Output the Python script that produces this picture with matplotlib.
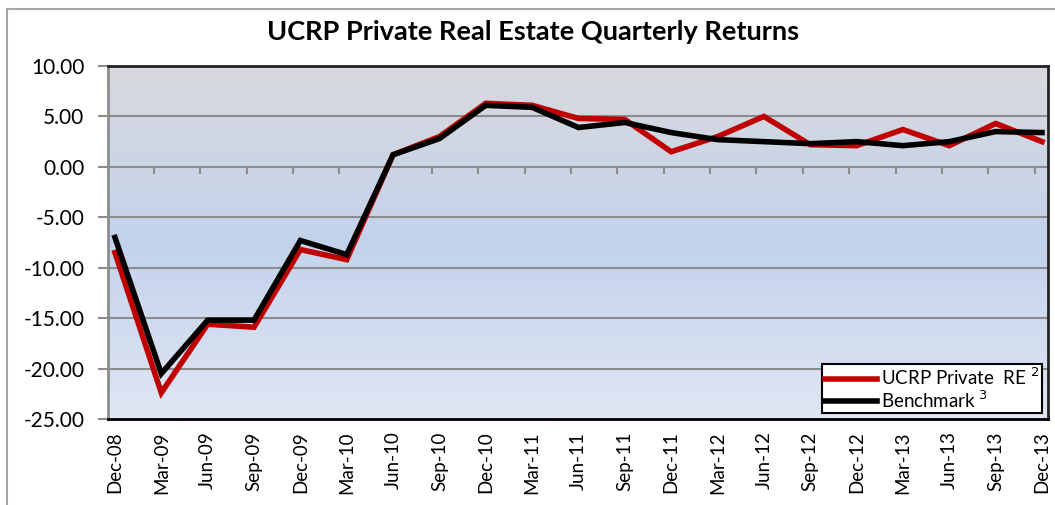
import matplotlib
matplotlib.use("Agg")
import matplotlib.pyplot as plt
import numpy as np
from matplotlib.patches import Rectangle

plt.rcParams['font.family'] = ['Lato', 'DejaVu Sans']

quarters = ["Dec-08", "Mar-09", "Jun-09", "Sep-09", "Dec-09", "Mar-10", "Jun-10",
            "Sep-10", "Dec-10", "Mar-11", "Jun-11", "Sep-11", "Dec-11", "Mar-12",
            "Jun-12", "Sep-12", "Dec-12", "Mar-13", "Jun-13", "Sep-13", "Dec-13"]
ucrp_re = [-8.5, -22.4, -15.6, -15.9, -8.2, -9.2, 1.2, 3.0, 6.3, 6.1, 4.8, 4.7,
           1.5, 3.0, 5.0, 2.2, 2.1, 3.7, 2.1, 4.3, 2.5]
benchmark = [-7.0, -20.5, -15.2, -15.2, -7.3, -8.7, 1.2, 2.8, 6.1, 5.9, 3.9, 4.4,
             3.4, 2.7, 2.5, 2.3, 2.5, 2.1, 2.5, 3.5, 3.4]
y_ticks = [10, 5, 0, -5, -10, -15, -20, -25]

fig = plt.figure(figsize=(10.55, 5.05), dpi=100)
# outer chart border
fig.patches.append(Rectangle((7/1055, -0.05), 1.1, 1 - 9/505 + 0.05, transform=fig.transFigure,
                             fill=False, edgecolor='#a6a6a6', linewidth=1.5))

ax = fig.add_axes([108/1055, 1 - 419/505, 940/1055, 353/505])
x = np.arange(len(quarters))
ax.set_xlim(-0.15, 20.13)
ax.set_ylim(-25, 10)

# gradient background
top = np.array([216, 217, 221]) / 255
mid = np.array([195, 210, 236]) / 255
bot = np.array([224, 230, 243]) / 255
n = 256
t = np.linspace(0, 1, n)
cols = np.zeros((n, 1, 3))
for i, tt in enumerate(t):
    if tt < 0.5:
        c = top + (mid - top) * (tt / 0.5)
    else:
        c = mid + (bot - mid) * ((tt - 0.5) / 0.5)
    cols[i, 0] = c
ax.imshow(cols, extent=[-0.15, 20.13, -25, 10], aspect='auto', zorder=0, origin='upper')

for yv in y_ticks:
    if yv not in (10, -25):
        ax.axhline(yv, color='#8c8c8c', linewidth=1.5, zorder=1)

# minor category ticks along zero line
for i in range(1, len(quarters)):
    ax.plot([i - 0.16, i - 0.16], [0, -0.6], color='#8c8c8c', linewidth=1.5, zorder=1)

ax.plot(x, ucrp_re, color='#c00000', linewidth=4, solid_joinstyle='miter', zorder=3,
        label='UCRP Private  RE $^{2}$')
ax.plot(x, benchmark, color='black', linewidth=4, solid_joinstyle='miter', zorder=4,
        label='Benchmark $^{3}$')

ax.set_yticks(y_ticks)
ax.set_yticklabels([f"{v:.2f}" for v in y_ticks], fontsize=15)
ax.set_xticks(x)
ax.set_xticklabels(quarters, rotation=90, fontsize=13.5)
ax.tick_params(axis='x', length=0, pad=9)
ax.tick_params(axis='y', length=7, width=1.5, color='#8c8c8c', pad=10)

ax.spines['left'].set_color('#8c8c8c')
ax.spines['left'].set_linewidth(2)
ax.spines['bottom'].set_color('black')
ax.spines['bottom'].set_linewidth(2)
ax.spines['top'].set_color('#222222')
ax.spines['top'].set_linewidth(2)
ax.spines['right'].set_color('#222222')
ax.spines['right'].set_linewidth(2)

fig.text(533/1055, 1 - 32/505, "UCRP Private Real Estate Quarterly Returns",
         ha='center', va='center', fontsize=19.5, fontweight='bold')

leg = ax.legend(loc='lower right', bbox_to_anchor=(1.0, 0.0), fontsize=13.5, frameon=True,
                fancybox=False, edgecolor='black', handlelength=2.8, handletextpad=0.2,
                borderpad=0.15, labelspacing=0.05, borderaxespad=0.3)
leg.get_frame().set_linewidth(1.5)
leg.get_frame().set_facecolor('white')
leg.get_frame().set_alpha(1)

fig.savefig("out.png", dpi=100)
